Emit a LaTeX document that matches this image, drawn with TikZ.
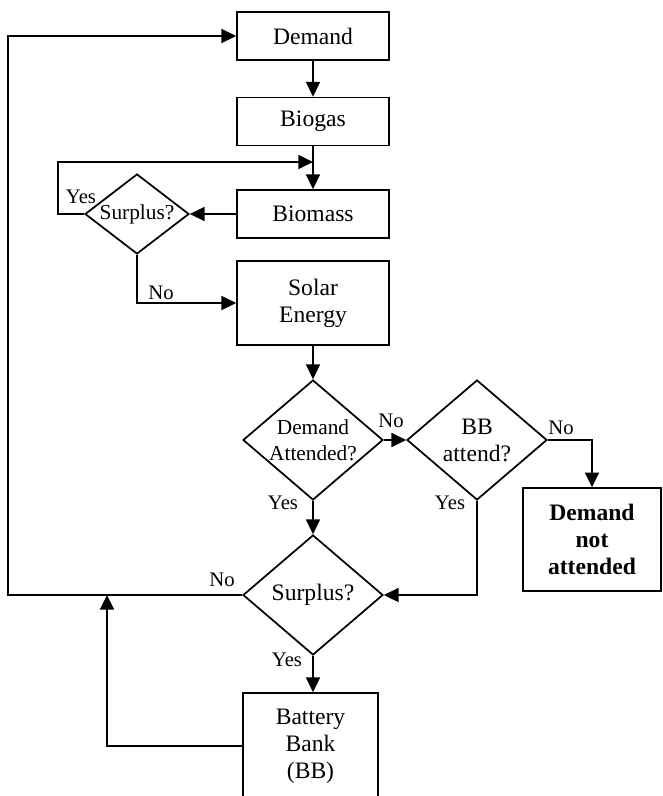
\documentclass[tikz,border=0pt]{standalone}
\usepackage{fontspec}
\setmainfont{Liberation Serif}
\usetikzlibrary{arrows.meta,shapes.geometric}
\begin{document}
\begin{tikzpicture}[x=0.75pt,y=-0.75pt,
  line width=1.3pt,
  arr/.style={-{Triangle[length=11pt,width=10.5pt]}},
  big/.style={font=\fontsize{17.7}{20.3}\selectfont},
  mid/.style={font=\fontsize{16}{19.5}\selectfont},
  lab/.style={font=\fontsize{15.5}{18}\selectfont, inner sep=0pt},
  box/.style={draw, rectangle, inner sep=0pt, align=center, big},
  dia/.style={draw, diamond, inner sep=0pt},
  dtext/.style={align=center, inner sep=0pt}]
\clip (0,0) rectangle (663,796);
% boxes
\node[box, minimum width=114pt, minimum height=36pt] (demand) at (313,36) {Demand};
\node[box, minimum width=114pt, minimum height=36pt] (biogas) at (313,121.5) {Biogas};
\node[box, minimum width=114pt, minimum height=36pt] (biomass) at (313,214) {Biomass};
\node[box, minimum width=114pt, minimum height=63pt] (solar) at (313,303) {Solar\\Energy};
\node[box, minimum width=104pt, minimum height=77pt, font=\fontsize{17.7}{20.3}\selectfont\bfseries] (dna) at (592,539.5) {Demand\\not\\attended};
\node[box, minimum width=101pt, minimum height=79.5pt] (bat) at (310.5,746) {Battery\\Bank\\(BB)};
% diamonds
\node[dia, minimum width=78pt, minimum height=60pt,
  label={[dtext,mid]center:Surplus?}] (s1) at (137,214) {};
\node[dia, minimum width=105pt, minimum height=90pt,
  label={[dtext,mid]center:Demand\\Attended?}] (d1) at (313,440) {};
\node[dia, minimum width=105pt, minimum height=90pt,
  label={[dtext,big]center:BB\\attend?}] (d2) at (477,440) {};
\node[dia, minimum width=105pt, minimum height=90pt,
  label={[dtext,big]center:Surplus?}] (s2) at (313,595) {};
% helper coordinates
\coordinate (j1) at (313,162);
\coordinate (yl) at (58,162);
\coordinate (lc) at (8,595);
\coordinate (bj) at (107,595);
% connectors
\draw[arr] (demand.south) -- (biogas.north);
\draw[arr] (biogas.south) -- (biomass.north);
\draw[arr] (biomass.west) -- (s1.east);
\draw[arr] (s1.west) -| (yl) -- (j1);
\draw[arr] (s1.south) |- (solar.west);
\draw[arr] (solar.south) -- (d1.north);
\draw[arr] (d1.east) -- (d2.west);
\draw[arr] (d2.east) -| (dna.north);
\draw[arr] (d1.south) -- (s2.north);
\draw[arr] (d2.south) |- (s2.east);
\draw[arr] (s2.west) -- (lc) |- (demand.west);
\draw[arr] (bat.west) -| (bj);
\draw[arr] (s2.south) -- (s2.south |- bat.north);
% labels
\node[lab] (l1) at (81,197) {Yes};
\node[lab] (l2) at (161,293) {No};
\node[lab] (l3) at (391,421) {No};
\node[lab] (l4) at (561,428) {No};
\node[lab] (l5) at (283,503) {Yes};
\node[lab] (l6) at (450,503) {Yes};
\node[lab] (l7) at (222,580) {No};
\node[lab] (l8) at (287,660) {Yes};
\end{tikzpicture}
\end{document}
